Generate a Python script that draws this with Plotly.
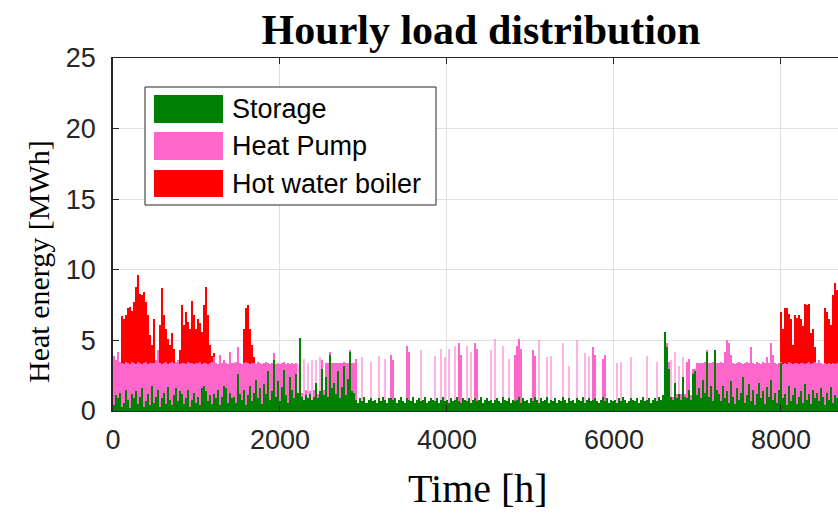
import plotly.graph_objects as go

# Daily heat delivered by each unit [MWh per hour, daily representative value], day 0 .. 364
storage = [
    0.4, 1.1, 0.9, 1.3, 0.3, 0.6, 1.5, 0.8, 0.2, 1.2,
    0.9, 1.4, 0.5, 1.0, 1.6, 0.3, 0.7, 1.2, 0.4, 1.8,
    0.6, 1.0, 1.5, 0.3, 0.9, 1.3, 0.5, 1.7, 0.8, 0.4,
    1.1, 1.6, 0.7, 1.4, 1.2, 0.5, 0.9, 1.5, 0.3, 0.8,
    1.3, 0.6, 1.0, 0.4, 1.6, 1.8, 1.4, 0.7, 1.1, 0.5,
    1.2, 0.9, 1.5, 0.4, 1.0, 1.8, 1.6, 0.6, 1.3, 0.9,
    1.0, 0.6, 2.6, 1.2, 0.8, 1.5, 0.4, 1.1, 1.8, 0.7,
    1.3, 2.2, 0.9, 1.6, 0.5, 1.9, 1.2, 2.8, 0.8, 1.4,
    3.6, 1.0, 2.1, 0.7, 1.7, 2.9, 1.1, 0.6, 2.4, 1.5,
    0.9, 2.6, 1.3, 5.2, 1.0, 0.8, 1.1, 0.9, 1.2, 0.8,
    1.0, 2.0, 0.9, 1.4, 3.0, 1.1, 2.4, 1.0, 4.0, 1.6,
    2.0, 1.2, 2.8, 0.9, 1.7, 3.2, 1.1, 2.3, 4.2, 1.4,
    1.3, 0.8, 0.6, 0.9, 0.7, 1.0, 0.6, 0.8, 0.9, 0.7,
    0.8, 0.6, 0.9, 0.7, 1.0, 0.8, 0.6, 0.9, 0.9, 0.8,
    0.9, 0.6, 0.8, 1.0, 0.7, 0.6, 0.9, 0.8, 0.7, 1.0,
    0.6, 0.8, 0.9, 0.7, 0.8, 1.0, 0.6, 0.7, 0.9, 0.8,
    0.7, 0.9, 0.6, 0.8, 1.0, 0.7, 0.8, 0.6, 0.9, 0.7,
    0.8, 1.0, 0.7, 0.6, 0.9, 0.8, 0.7, 0.9, 0.6, 0.8,
    0.9, 0.7, 0.8, 1.0, 0.6, 0.8, 0.9, 0.7, 0.8, 0.6,
    0.8, 0.9, 0.7, 0.6, 1.0, 0.8, 0.7, 0.9, 0.6, 0.8,
    0.7, 0.8, 1.0, 0.6, 0.9, 0.7, 0.8, 0.6, 0.9, 0.7,
    1.0, 0.8, 0.6, 0.9, 0.7, 0.8, 1.0, 0.6, 0.8, 0.7,
    0.9, 0.6, 0.8, 0.7, 1.0, 0.8, 0.6, 0.9, 0.7, 0.8,
    0.6, 0.9, 0.8, 0.7, 1.0, 0.6, 0.8, 0.9, 0.7, 0.8,
    0.9, 0.7, 0.6, 0.8, 1.0, 0.7, 0.9, 0.6, 0.8, 0.7,
    0.8, 0.6, 0.9, 0.7, 1.0, 0.8, 0.6, 0.7, 0.9, 0.8,
    0.7, 0.9, 0.6, 0.8, 1.0, 0.7, 0.8, 0.9, 0.6, 0.8,
    0.9, 0.7, 1.0, 0.8, 1.1, 5.6, 4.5, 3.0, 1.0, 0.8,
    2.0, 0.9, 1.2, 0.8, 2.4, 1.0, 0.9, 1.5, 0.8, 2.6,
    2.8, 1.1, 1.6, 0.9, 2.2, 1.3, 4.2, 1.0, 1.8, 0.7,
    4.3, 1.5, 1.2, 0.7, 1.8, 0.9, 1.4, 0.6, 2.1, 1.0,
    0.5, 1.6, 0.8, 1.3, 2.4, 0.6, 1.1, 1.9, 0.7, 1.5,
    0.4, 1.2, 2.0, 0.9, 1.4, 0.5, 1.7, 1.0, 2.2, 0.8,
    1.3, 0.6, 1.5, 3.4, 0.9, 1.2, 0.4, 1.8, 0.7, 1.1,
    1.6, 0.5, 1.0, 1.4, 0.6, 1.9, 0.8, 1.2, 0.5, 1.5,
    0.9, 1.3, 0.7, 1.6, 1.0, 0.4, 1.3, 0.8, 1.7, 0.6,
    1.1, 0.9, 1.4, 0.7, 1.2,
]

heat_pump = [
    3.5, 2.5, 3.3, 2.2, 3.1, 2.7, 2.0, 2.6, 3.1, 2.3,
    2.5, 1.9, 3.0, 2.4, 1.7, 3.1, 2.8, 2.1, 3.0, 1.6,
    2.8, 2.6, 2.8, 3.1, 2.4, 2.1, 3.0, 1.6, 2.6, 3.1,
    2.3, 1.9, 2.9, 1.9, 2.2, 2.9, 2.4, 2.0, 3.1, 2.6,
    2.0, 2.8, 2.4, 3.1, 1.7, 1.6, 2.0, 2.6, 2.3, 3.0,
    2.6, 2.5, 1.8, 3.6, 2.4, 1.8, 1.8, 2.7, 2.9, 2.5,
    2.4, 2.9, 1.9, 2.2, 2.5, 1.9, 3.1, 2.3, 1.5, 2.7,
    2.1, 1.1, 2.6, 1.8, 2.8, 1.5, 2.3, 0.6, 2.5, 2.0,
    0.5, 2.3, 1.3, 2.6, 1.7, 0.6, 2.2, 2.8, 0.9, 1.9,
    2.4, 0.8, 2.0, 0.0, 0.3, 2.9, 0.4, 2.5, 0.2, 2.8,
    0.5, 1.6, 0.3, 2.4, 0.6, 0.4, 1.0, 2.4, 0.2, 1.8,
    1.4, 2.2, 0.6, 2.5, 1.7, 0.3, 2.3, 1.1, 0.1, 2.0,
    2.1, 2.9, 0, 0, 3.1, 0, 0, 0, 2.6, 0,
    0, 0, 3.0, 0, 0, 2.9, 0, 0, 3.1, 2.8,
    0, 0, 0, 0, 0, 0, 3.7, 3.4, 0, 0,
    0, 0, 0, 3.6, 0, 0, 0, 0, 0, 0,
    3.2, 0, 0, 3.6, 0, 3.1, 0, 3.8, 0, 0,
    3.8, 0, 4.1, 3.4, 0, 0, 3.9, 0, 3.6, 0,
    3.9, 3.7, 0, 0, 0, 0, 0, 0, 3.5, 0,
    4.3, 0, 0, 0, 3.6, 0, 0, 2.8, 0, 0,
    3.3, 3.8, 4.1, 3.8, 0, 0, 0, 0, 0, 3.6,
    2.9, 0, 4.4, 0, 0, 0, 2.8, 0, 3.1, 0,
    0, 0, 0, 0, 3.8, 0, 0, 2.3, 0, 0,
    0, 4.1, 0, 0, 0, 3.5, 0, 3.0, 0, 3.7,
    3.1, 0, 0, 0, 2.7, 3.3, 0, 0, 0, 0,
    0, 2.8, 0, 2.8, 0, 0, 0, 0, 2.9, 0,
    0, 0, 0, 0, 0, 0, 3.1, 0, 0, 0,
    0, 2.8, 0, 0, 0, 0.0, 0.3, 0.5, 2.6, 0.2,
    2.2, 0.3, 2.0, 0.4, 1.4, 0.2, 2.6, 2.2, 0.3, 0.4,
    0.2, 2.3, 1.8, 2.5, 1.2, 2.2, 0.1, 2.4, 1.6, 2.8,
    0.0, 1.9, 2.2, 2.8, 1.6, 3.3, 3.6, 4.2, 1.9, 2.4,
    2.8, 1.8, 2.7, 2.1, 0.9, 2.8, 2.4, 1.5, 3.8, 1.9,
    2.9, 2.3, 1.4, 2.4, 2.1, 2.9, 2.1, 2.4, 2.6, 3.2,
    2.1, 2.7, 1.9, 0.1, 2.4, 2.2, 2.9, 1.7, 2.7, 2.2,
    1.8, 2.9, 2.3, 2.0, 2.8, 1.4, 2.6, 2.3, 2.8, 1.9,
    2.6, 2.1, 2.9, 1.8, 2.3, 3.0, 2.0, 2.6, 1.6, 2.8,
    2.2, 2.5, 2.0, 2.6, 2.2,
]

boiler = [
    0, 0, 0, 0, 3.3, 3.2, 3.3, 3.9, 4.1, 3.6,
    4.3, 5.5, 6.1, 4.9, 4.9, 5.0, 4.2, 3.5, 2.0, 1.3,
    3.1, 0, 0, 2.7, 5.4, 3.4, 2.3, 1.8, 1.3, 2.0,
    1.0, 0, 0, 1.0, 4.1, 2.7, 3.7, 2.8, 2.4, 4.4,
    3.5, 2.4, 3.1, 2.7, 2.3, 4.1, 5.4, 3.5, 1.3, 0.4,
    0.3, 0, 0, 0, 0, 0, 0, 0, 0, 0,
    0, 0, 0, 0, 0, 2.4, 3.8, 4.1, 2.5, 1.3,
    0.4, 0, 0, 0, 0, 0, 0, 0, 0, 0,
    0, 0, 0, 0, 0, 0, 0, 0, 0, 0,
    0, 0, 0, 0, 0, 0, 0, 0, 0, 0,
    0, 0, 0, 0, 0, 0, 0, 0, 0, 0,
    0, 0, 0, 0, 0, 0, 0, 0, 0, 0,
    0, 0, 0, 0, 0, 0, 0, 0, 0, 0,
    0, 0, 0, 0, 0, 0, 0, 0, 0, 0,
    0, 0, 0, 0, 0, 0, 0, 0, 0, 0,
    0, 0, 0, 0, 0, 0, 0, 0, 0, 0,
    0, 0, 0, 0, 0, 0, 0, 0, 0, 0,
    0, 0, 0, 0, 0, 0, 0, 0, 0, 0,
    0, 0, 0, 0, 0, 0, 0, 0, 0, 0,
    0, 0, 0, 0, 0, 0, 0, 0, 0, 0,
    0, 0, 0, 0, 0, 0, 0, 0, 0, 0,
    0, 0, 0, 0, 0, 0, 0, 0, 0, 0,
    0, 0, 0, 0, 0, 0, 0, 0, 0, 0,
    0, 0, 0, 0, 0, 0, 0, 0, 0, 0,
    0, 0, 0, 0, 0, 0, 0, 0, 0, 0,
    0, 0, 0, 0, 0, 0, 0, 0, 0, 0,
    0, 0, 0, 0, 0, 0, 0, 0, 0, 0,
    0, 0, 0, 0, 0, 0, 0, 0, 0, 0,
    0, 0, 0, 0, 0, 0, 0, 0, 0, 0,
    0, 0, 0, 0, 0, 0, 0, 0, 0, 0,
    0, 0, 0, 0, 0, 0, 0, 0, 0, 0,
    0, 0, 0, 0, 0, 0, 0, 0, 0, 0,
    0, 0, 0, 0, 0, 0, 0, 0, 0, 0,
    0, 0, 0, 3.5, 2.5, 3.9, 4.0, 3.4, 3.1, 1.4,
    3.4, 3.2, 3.5, 3.1, 2.6, 4.3, 4.1, 4.1, 2.2, 2.4,
    1.0, 0, 0, 0, 0, 3.9, 3.7, 3.1, 2.8, 4.8,
    5.8, 5.2, 4.6, 4.2, 3.6,
]

series_names = ["Storage", "Heat Pump", "Hot water boiler"]
series_colors = ["#008000", "#FF66CC", "#FF0000"]
series_values = [storage, heat_pump, boiler]

x_ticks = [0, 2000, 4000, 6000, 8000]
y_ticks = [0, 5, 10, 15, 20, 25]

HOURS_PER_DAY = 24
n_days = len(storage)
hours = [d * HOURS_PER_DAY + HOURS_PER_DAY / 2 for d in range(n_days)]

W, H = 838, 514
PLOT_L, PLOT_R, PLOT_T, PLOT_B = 113, 838, 58, 411
AXIS = "#262626"


def px_x(px):
    return (px - PLOT_L) / (PLOT_R - PLOT_L)


def px_y(py):
    return (PLOT_B - py) / (PLOT_B - PLOT_T)


def short_run_opacity(vals, faint=0.5):
    """Isolated one-day operating spikes are drawn lighter, runs stay solid."""
    out = []
    for i, v in enumerate(vals):
        prev_v = vals[i - 1] if i > 0 else 0
        next_v = vals[i + 1] if i + 1 < len(vals) else 0
        out.append(faint if (v >= 1 and prev_v < 1 and next_v < 1) else 1.0)
    return out


opacities = [[1.0] * n_days, short_run_opacity(heat_pump), [1.0] * n_days]

fig = go.Figure()
for name, color, vals, op in zip(series_names, series_colors, series_values, opacities):
    fig.add_trace(go.Bar(
        x=hours, y=vals, width=HOURS_PER_DAY, name=name,
        marker=dict(color=color, opacity=op, line=dict(width=0)),
        showlegend=False,
    ))

sans = "Liberation Sans, Arial, sans-serif"
serif = "Liberation Serif, Times New Roman, serif"
tick_font = dict(family=sans, size=27, color=AXIS)

fig.update_layout(
    width=W, height=H,
    margin=dict(l=PLOT_L, r=W - PLOT_R, t=PLOT_T, b=H - PLOT_B, pad=0),
    paper_bgcolor="white", plot_bgcolor="white",
    barmode="stack", bargap=0,
    title=dict(text="<b>Hourly load distribution</b>",
               font=dict(family=serif, size=42, color="black"),
               x=px_x(481), xref="paper", xanchor="center",
               y=1 - 29 / H, yref="container", yanchor="middle"),
    xaxis=dict(range=[0, 8683], tickvals=x_ticks, ticks="inside", ticklen=6,
               tickcolor=AXIS, showline=True, linecolor=AXIS, linewidth=1,
               mirror="ticks", showgrid=True, gridcolor="#E0E0E0", gridwidth=1,
               zeroline=False, tickfont=tick_font, ticklabelstandoff=5),
    yaxis=dict(range=[0, 25], tickvals=y_ticks, ticks="inside", ticklen=6,
               tickcolor=AXIS, showline=True, linecolor=AXIS, linewidth=1.5,
               showgrid=True, gridcolor="#E0E0E0", gridwidth=1,
               zeroline=False, tickfont=tick_font, ticklabelstandoff=10),
)

annotations = [
    dict(text="Heat energy [MWh]", x=px_x(38), y=px_y(262), xref="paper", yref="paper",
         textangle=-90, showarrow=False, font=dict(family=serif, size=30, color="black"),
         xanchor="center", yanchor="middle"),
    dict(text="Time [h]", x=px_x(478), y=px_y(489), xref="paper", yref="paper",
         showarrow=False, font=dict(family=serif, size=40, color="black"),
         xanchor="center", yanchor="middle"),
]

# Legend box drawn with shapes so swatches have the wide patch style
shapes = [dict(type="rect", xref="paper", yref="paper",
               x0=px_x(145), x1=px_x(436), y0=px_y(205), y1=px_y(87),
               fillcolor="white", line=dict(color=AXIS, width=1), layer="above")]
rows = [(95, 123), (132, 160), (170, 197)]
for (top, bot), name, color in zip(rows, series_names, series_colors):
    shapes.append(dict(type="rect", xref="paper", yref="paper",
                       x0=px_x(154), x1=px_x(223), y0=px_y(bot), y1=px_y(top),
                       fillcolor=color, line=dict(width=0), layer="above"))
    annotations.append(dict(text=name, x=px_x(230), y=px_y((top + bot) / 2),
                            xref="paper", yref="paper", showarrow=False,
                            xanchor="left", yanchor="middle",
                            font=dict(family=sans, size=27, color="black")))

fig.update_layout(shapes=shapes, annotations=annotations)
fig.write_html("out.html")
